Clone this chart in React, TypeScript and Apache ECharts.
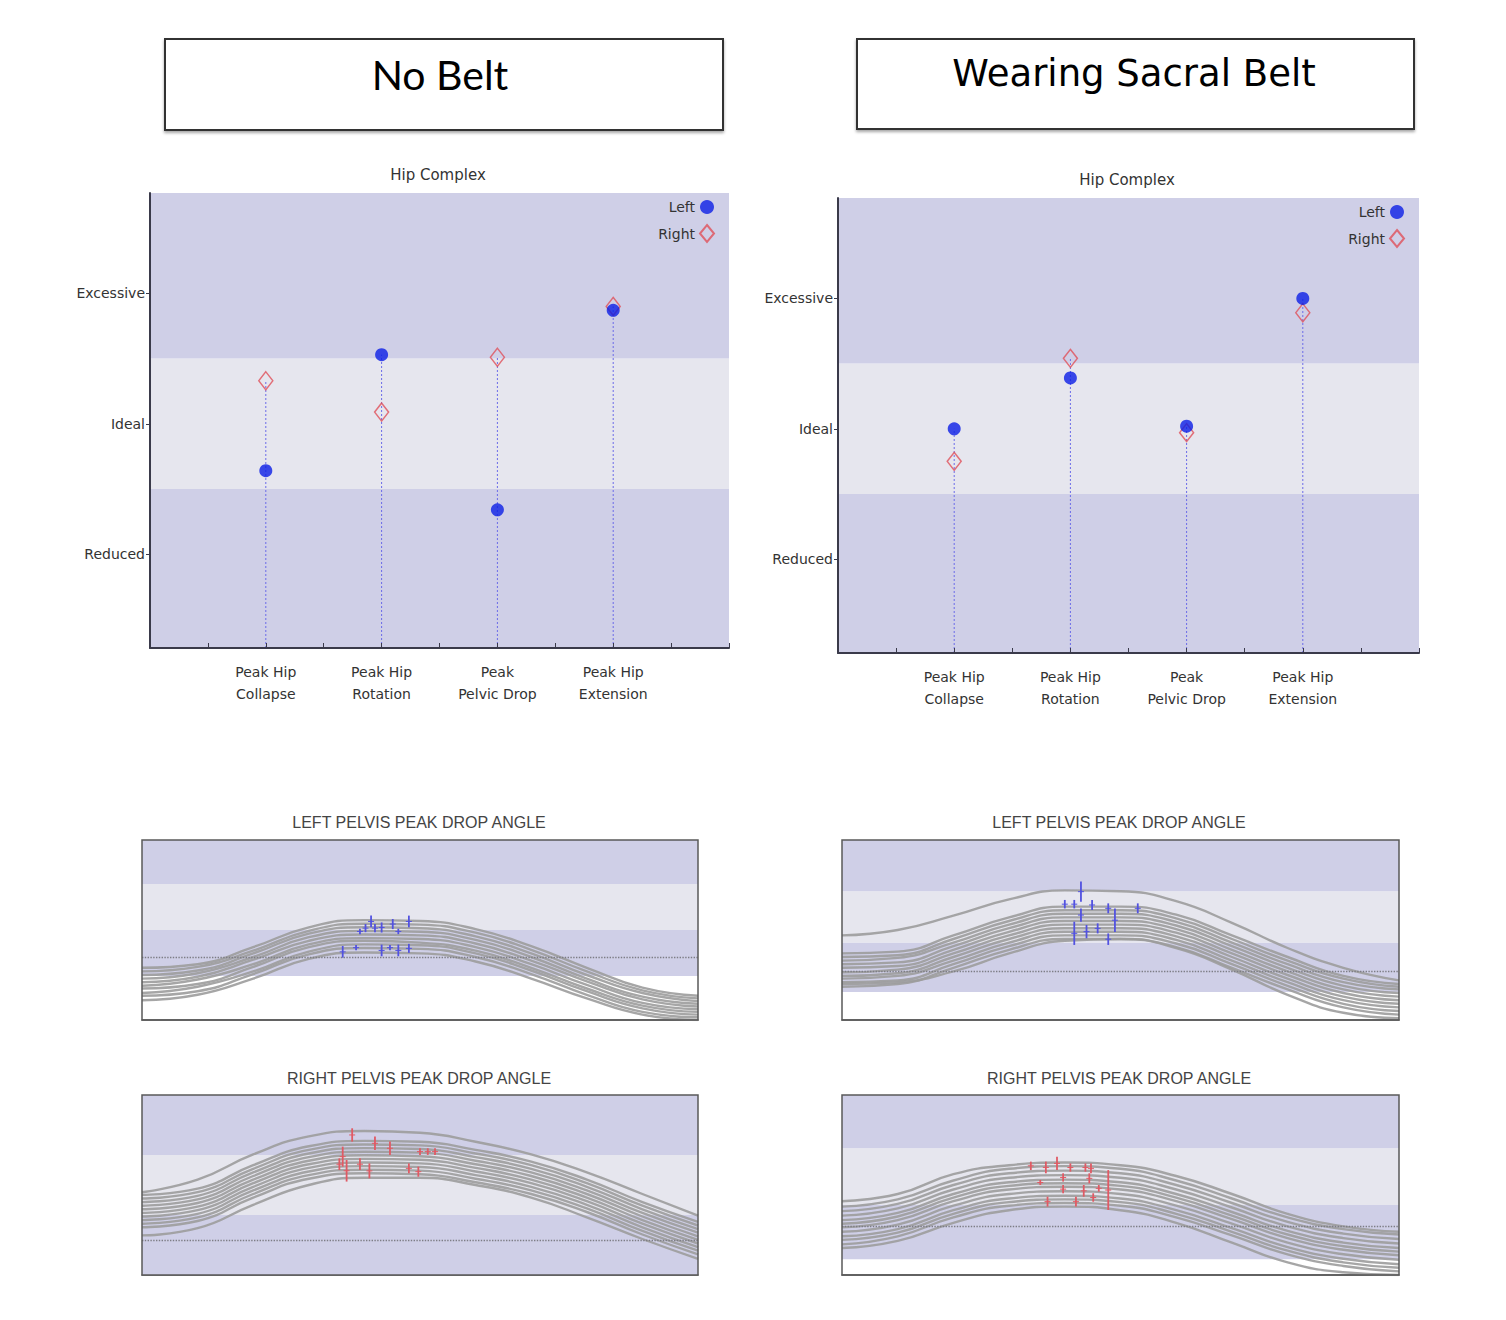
import * as echarts from "echarts"
import { useEffect, useRef } from "react"

// ---- Hip Complex (scatter) ----
const hipCategories = ["Peak Hip\nCollapse", "Peak Hip\nRotation", "Peak\nPelvic Drop", "Peak Hip\nExtension"]
const hipLevels = ["Reduced", "Ideal", "Excessive"] // 1, 2, 3
const hipZones = [0.28, 1.5, 2.5, 3.77] // reduced | ideal | excessive
const noBeltLeft = [1.64, 2.53, 1.34, 2.87]
const noBeltRight = [2.33, 2.09, 2.51, 2.9]
const beltLeft = [2.0, 2.39, 2.02, 3.0]
const beltRight = [1.75, 2.54, 1.97, 2.89]

// ---- Pelvis peak drop angle (gait cycle curves), values in % of chart range ----
const cyclePercent = [0, 10, 20, 30, 40, 50, 60, 70, 80, 90, 100]

const noBeltLeftZones = [24.5, 50, 75.5, 100]
const noBeltLeftRef = 34.7
const noBeltLeftTrials = [
  [11, 14, 23, 34, 37.5, 37, 32.5, 23, 12, 3, 0],
  [13.5, 16, 25.5, 36.5, 40, 39.5, 35, 25.5, 14, 4.5, 1.5],
  [15, 18.5, 27, 38, 42, 41.5, 37, 27.5, 16, 6.5, 3],
  [17.5, 20, 29.5, 40.5, 44, 43, 38.5, 29, 17.5, 8, 4.5],
  [19, 22.5, 31, 42, 45.5, 45, 40.5, 31, 19.5, 9.5, 6],
  [21, 24, 33.5, 44, 47.5, 47, 42.5, 33, 21.5, 11.5, 7.5],
  [23, 26, 35, 46, 49.5, 49, 44.5, 35, 23, 13, 9],
  [25, 27.5, 37, 48, 51.5, 51, 46.5, 37, 25, 15, 10.5],
  [27, 29.5, 38.5, 49.5, 53.5, 53, 48.5, 39, 27, 16.5, 12],
  [29, 31, 40.5, 51.5, 55.5, 55, 50.5, 41, 29, 18, 13.5],
]
const noBeltLeftPeaks = [
  [36.1, 34.6, 41.1], [38.5, 38.7, 41.7], [39.2, 47.7, 50.7], [40.2, 48.8, 53.3],
  [41.2, 51.5, 58], [41.9, 48.8, 53.3], [43.1, 48.6, 54.2], [43.1, 35.4, 41.9],
  [44.6, 38.7, 41.7], [45.1, 50.5, 56.1], [46.1, 47.7, 50.7], [46.1, 35.4, 41.9],
  [48, 51.5, 58], [48, 37.3, 42.3],
]

const beltLeftZones = [15.5, 43, 71.5, 100]
const beltLeftRef = 27
const beltLeftTrials = [
  [18.5, 20, 29, 39, 45, 45, 40.5, 29, 17, 7, 3],
  [21, 22, 31, 41, 47, 47, 42.5, 31, 19, 9, 5],
  [23, 24.5, 33, 43, 49, 49, 44.5, 33, 21, 11, 7],
  [24.5, 26, 35, 45, 51, 51, 46.5, 35, 23, 13, 9],
  [26.5, 28, 37, 47, 53, 53, 48.5, 37, 25, 15, 11],
  [29, 30, 39, 49, 55, 55, 50.5, 39, 27, 17, 13],
  [31, 32, 41, 51, 57, 57, 52.5, 41, 29, 19, 15],
  [33, 34.5, 43, 53, 59, 59, 54.5, 43, 31, 21, 17],
  [35, 36, 45, 55, 61, 61, 56.5, 45, 33, 23, 18.5],
  [37, 38, 47, 57, 63, 63, 58.5, 47, 35, 24.5, 20],
  [47, 50, 58, 67, 72, 71.5, 66, 54, 40, 29, 22],
  [20, 21, 27, 37, 44, 45, 40, 28, 14, 4, 1],
]
const beltLeftPeaks = [
  [40, 62, 66.7], [41.7, 62, 66.7], [41.7, 41.7, 54.6], [42.9, 65.7, 76.9],
  [42.9, 54.6, 62], [43.9, 45.4, 52.8], [44.9, 61.1, 66.7], [45.9, 48.1, 53.7],
  [47.8, 59.3, 64.8], [47.8, 41.7, 48.1], [49, 48.9, 62], [53.1, 59.3, 64.8],
]

const noBeltRightZones = [0, 33.3, 66.7, 100]
const noBeltRightRef = 19.4
const noBeltRightTrials = [
  [26.5, 30, 43, 53.5, 56.5, 56, 51.5, 45, 35, 22.5, 11.5],
  [28.5, 32, 45, 55.5, 58.5, 58, 53.5, 47, 37, 24.5, 13.5],
  [30.5, 34, 47, 57.5, 60.5, 60, 55.5, 49, 39, 26.5, 15.5],
  [32.5, 36, 49, 59.5, 62.5, 62, 57.5, 51, 41, 28.5, 17.5],
  [34.5, 38, 51, 61.5, 64.5, 64, 59.5, 53, 43, 30.5, 19.5],
  [36.5, 40, 53, 63.5, 66.5, 66, 61.5, 55, 45, 32.5, 21.5],
  [38.5, 42, 55, 65.5, 68.5, 68, 63.5, 57, 47, 34.5, 23.5],
  [40.5, 44, 57, 67.5, 70.5, 70, 65.5, 59, 49, 36.5, 25.5],
  [42.5, 46, 59, 69.5, 72.5, 72, 67.5, 61, 51, 38.5, 27.5],
  [44.5, 48, 61, 71.5, 74.5, 74, 69.5, 63, 53, 40.5, 29.5],
  [46, 53, 67, 77, 80, 79, 74, 67, 57, 45, 33],
  [22, 26, 39, 50, 54, 54, 50, 43, 32, 20, 9],
]
const noBeltRightPeaks = [
  [35.5, 58.3, 64.8], [36.1, 60.2, 71.3], [36.8, 51.9, 63.9], [37.8, 74.1, 81.5],
  [39.2, 58.3, 64.8], [40.9, 53.7, 62], [41.9, 69.4, 76.9], [44.6, 66.7, 74.1],
  [48, 56.5, 62], [49.7, 54.6, 60.2], [50, 66.7, 70.4], [51.4, 66.7, 70.4], [52.7, 66.7, 70.4],
]

const beltRightZones = [8.7, 38.9, 70.4, 100]
const beltRightRef = 26.9
const beltRightTrials = [
  [17, 21.5, 32, 38.5, 40, 38.5, 32, 22, 11.5, 5, 2],
  [19.5, 23.5, 34, 40.5, 42, 40.5, 34, 24, 13.5, 7, 4],
  [21.5, 25.5, 36, 42.5, 44, 42.5, 36, 26, 15.5, 9, 6],
  [24, 28, 38.5, 45, 46.5, 45, 38.5, 28.5, 18, 11.5, 8.5],
  [26.5, 30.5, 41, 47.5, 49, 47.5, 41, 31, 20.5, 14, 11],
  [28.5, 32.5, 43, 49.5, 51, 49.5, 43, 33, 22.5, 16, 13],
  [30.5, 34.5, 45, 51.5, 53, 51.5, 45, 35, 24.5, 18, 15],
  [33, 37, 47.5, 54, 55.5, 54, 47.5, 37.5, 27, 20.5, 17.5],
  [35.5, 39.5, 50, 56.5, 58, 56.5, 50, 40, 29.5, 23, 20],
  [38, 42, 52.5, 59, 60.5, 59, 52.5, 42.5, 32, 25.5, 22.5],
  [41, 45, 56, 61, 62.5, 61, 55, 45, 34, 27, 24],
  [15, 19, 29, 36, 38, 36, 29, 18, 7, 1.5, 0],
]
const beltRightPeaks = [
  [33.9, 58.3, 63], [35.6, 50, 52.8], [36.6, 56.5, 63], [36.9, 38, 43.5],
  [38.6, 58.3, 65.7], [39.7, 51.9, 56.5], [39.7, 45.4, 50], [41, 57.4, 62],
  [42, 38, 43.5], [43.4, 43.5, 50], [43.7, 57.4, 62], [44.4, 50.9, 56.5],
  [44.7, 56.5, 62], [45.1, 40.7, 45.4], [46.1, 46.3, 50], [47.8, 36.1, 58.3],
]

const darkBand = "#cfcfe7"
const lightBand = "#e6e6ee"
const leftColor = "#0b1ee6"
const rightColor = "#e0505a"
const uiFont = "DejaVu Sans"

// category i sits on every second unit of the hip x axis
const slot = (i: number) => 2 * (i + 1)

const bandSeries = (gi: number, zones: number[]) => ({
  type: "custom",
  xAxisIndex: gi,
  yAxisIndex: gi,
  z: 1,
  silent: true,
  data: zones.slice(0, -1).map((lo, i) => [lo, zones[i + 1], i]),
  renderItem: (params: any, api: any) => {
    const cs = params.coordSys
    const yTop = api.coord([0, api.value(1)])[1]
    const yBot = api.coord([0, api.value(0)])[1]
    return {
      type: "rect",
      shape: { x: cs.x, y: yTop, width: cs.width, height: yBot - yTop },
      style: { fill: api.value(2) === 1 ? lightBand : darkBand },
    }
  },
})

const hipSeries = (gi: number, left: number[], right: number[]) => [
  bandSeries(gi, hipZones),
  {
    type: "custom",
    xAxisIndex: gi,
    yAxisIndex: gi,
    z: 2,
    silent: true,
    data: left.map((v, i) => [slot(i), Math.max(v, right[i])]),
    renderItem: (_params: any, api: any) => {
      const top = api.coord([api.value(0), api.value(1)])
      const bottom = api.coord([api.value(0), hipZones[0]])
      return {
        type: "line",
        shape: { x1: top[0], y1: bottom[1], x2: top[0], y2: top[1] },
        style: { stroke: "#6b6be8", lineWidth: 1, lineDash: [2, 2] },
      }
    },
  },
  {
    name: "Right",
    type: "scatter",
    xAxisIndex: gi,
    yAxisIndex: gi,
    z: 3,
    symbol: "diamond",
    symbolSize: [14, 18],
    itemStyle: { color: "rgba(255,255,255,0)", borderColor: rightColor, borderWidth: 1.5 },
    data: right.map((v, i) => [slot(i), v]),
  },
  {
    name: "Left",
    type: "scatter",
    xAxisIndex: gi,
    yAxisIndex: gi,
    z: 4,
    symbol: "circle",
    symbolSize: 13,
    itemStyle: { color: leftColor },
    data: left.map((v, i) => [slot(i), v]),
  },
]

const waveSeries = (gi: number, zones: number[], ref: number, trials: number[][], peaks: number[][], tickColor: string) => [
  bandSeries(gi, zones),
  ...trials.map((t, k) => ({
    type: "line",
    xAxisIndex: gi,
    yAxisIndex: gi,
    z: 2,
    silent: true,
    smooth: true,
    symbol: "none",
    lineStyle: { color: "#9c9c9c", width: 2.4, opacity: 0.9 },
    data: t.map((v, i) => [cyclePercent[i], v]),
    markLine:
      k === trials.length - 1
        ? {
            silent: true,
            symbol: "none",
            label: { show: false },
            lineStyle: { color: "#7d7d85", type: "dotted", width: 1.4, opacity: 1 },
            data: [{ yAxis: ref }],
          }
        : undefined,
  })),
  {
    type: "custom",
    xAxisIndex: gi,
    yAxisIndex: gi,
    z: 3,
    silent: true,
    data: peaks,
    renderItem: (_params: any, api: any) => {
      const lo = api.coord([api.value(0), api.value(1)])
      const hi = api.coord([api.value(0), api.value(2)])
      const midY = (lo[1] + hi[1]) / 2
      return {
        type: "group",
        children: [
          { type: "line", shape: { x1: lo[0], y1: lo[1], x2: hi[0], y2: hi[1] }, style: { stroke: tickColor, lineWidth: 1.8 } },
          { type: "line", shape: { x1: lo[0] - 3, y1: midY, x2: lo[0] + 3, y2: midY }, style: { stroke: tickColor, lineWidth: 1 } },
        ],
      }
    },
  },
]

const hipXAxis = (gi: number) => ({
  gridIndex: gi,
  type: "value",
  min: 0,
  max: 10,
  interval: 1,
  z: 5,
  axisLine: { onZero: false, lineStyle: { color: "#3a3a4a", width: 2 } },
  axisTick: { inside: true, length: 5, lineStyle: { color: "#3a3a4a" } },
  axisLabel: {
    margin: 13,
    fontFamily: uiFont,
    fontSize: 14,
    lineHeight: 22,
    color: "#333",
    formatter: (v: number) => {
      const i = v / 2 - 1
      return Number.isInteger(i) && i >= 0 && i < hipCategories.length ? hipCategories[i] : ""
    },
  },
  splitLine: { show: false },
})

const hipYAxis = (gi: number) => ({
  gridIndex: gi,
  type: "value",
  min: hipZones[0],
  max: hipZones[3],
  z: 5,
  axisLine: { show: true, onZero: false, lineStyle: { color: "#3a3a4a", width: 2 } },
  axisTick: { show: true, customValues: [1, 2, 3], length: 4, lineStyle: { color: "#3a3a4a" } },
  axisLabel: {
    customValues: [1, 2, 3],
    margin: 5,
    fontFamily: uiFont,
    fontSize: 14,
    color: "#333",
    formatter: (v: number) => hipLevels[Math.round(v) - 1] ?? "",
  },
  splitLine: { show: false },
})

const waveXAxis = (gi: number) => ({
  gridIndex: gi,
  type: "value",
  min: 0,
  max: 100,
  axisLine: { onZero: false, lineStyle: { color: "#555", width: 1.5 } },
  axisTick: { show: false },
  axisLabel: { show: false },
  splitLine: { show: false },
})

const waveYAxis = (gi: number) => ({
  gridIndex: gi,
  type: "value",
  min: 0,
  max: 100,
  show: false,
  splitLine: { show: false },
})

const legendFor = (right: number, top: number) => ({
  data: ["Left", "Right"],
  orient: "vertical",
  right,
  top,
  align: "right",
  itemGap: 10,
  itemWidth: 14,
  itemHeight: 17,
  selectedMode: false,
  textStyle: { fontFamily: uiFont, fontSize: 14, color: "#333" },
})

const titleText = (text: string, x: number, y: number, size: number, family: string, color = "#333") => ({
  type: "text",
  x,
  y,
  style: {
    text,
    fontSize: size,
    fontFamily: family,
    fill: color,
    align: "center",
    verticalAlign: "middle",
    textAlign: "center",
    textVerticalAlign: "middle",
  },
})

const headerBox = (x: number, y: number, width: number, height: number) => ({
  type: "rect",
  shape: { x, y, width, height },
  style: {
    fill: "#fff",
    stroke: "#333",
    lineWidth: 2,
    shadowBlur: 3,
    shadowOffsetY: 2,
    shadowColor: "rgba(0,0,0,0.35)",
  },
})

const waveGrid = (left: number, top: number, width: number) => ({
  left,
  top,
  width,
  height: 180,
  show: true,
  z: 10,
  borderColor: "#5a5a5a",
  borderWidth: 1.5,
  backgroundColor: "transparent",
  outerBoundsMode: "none",
})

export default function App() {
  const chartRef = useRef<HTMLDivElement>(null)

  useEffect(() => {
    if (!chartRef.current) return
    document.body.style.margin = "0"
    const chart = echarts.init(chartRef.current, null, { renderer: "svg" })

    const option: any = {
      animation: false,
      backgroundColor: "#fff",
      grid: [
        { left: 150, top: 193, width: 579, height: 455, outerBoundsMode: "none" },
        { left: 838, top: 198, width: 581, height: 455, outerBoundsMode: "none" },
        waveGrid(142, 840, 556),
        waveGrid(842, 840, 557),
        waveGrid(142, 1095, 556),
        waveGrid(842, 1095, 557),
      ],
      xAxis: [hipXAxis(0), hipXAxis(1), waveXAxis(2), waveXAxis(3), waveXAxis(4), waveXAxis(5)],
      yAxis: [hipYAxis(0), hipYAxis(1), waveYAxis(2), waveYAxis(3), waveYAxis(4), waveYAxis(5)],
      legend: [legendFor(786, 195), legendFor(96, 200)],
      graphic: [
        headerBox(165, 39, 558, 91),
        headerBox(857, 39, 557, 90),
        titleText("No Belt", 440, 74, 41, "Lato", "#000"),
        titleText("Wearing Sacral Belt", 1134, 73, 37, uiFont, "#000"),
        titleText("Hip Complex", 438, 175, 15, uiFont),
        titleText("Hip Complex", 1127, 180, 15, uiFont),
        titleText("LEFT PELVIS PEAK DROP ANGLE", 419, 822, 16, "Liberation Sans", "#444"),
        titleText("LEFT PELVIS PEAK DROP ANGLE", 1119, 822, 16, "Liberation Sans", "#444"),
        titleText("RIGHT PELVIS PEAK DROP ANGLE", 419, 1078, 16, "Liberation Sans", "#444"),
        titleText("RIGHT PELVIS PEAK DROP ANGLE", 1119, 1078, 16, "Liberation Sans", "#444"),
      ],
      series: [
        ...hipSeries(0, noBeltLeft, noBeltRight),
        ...hipSeries(1, beltLeft, beltRight),
        ...waveSeries(2, noBeltLeftZones, noBeltLeftRef, noBeltLeftTrials, noBeltLeftPeaks, "#5252e0"),
        ...waveSeries(3, beltLeftZones, beltLeftRef, beltLeftTrials, beltLeftPeaks, "#5252e0"),
        ...waveSeries(4, noBeltRightZones, noBeltRightRef, noBeltRightTrials, noBeltRightPeaks, "#e05a64"),
        ...waveSeries(5, beltRightZones, beltRightRef, beltRightTrials, beltRightPeaks, "#e05a64"),
      ],
    }

    chart.setOption(option)

    const handleResize = () => chart.resize()
    window.addEventListener("resize", handleResize)
    return () => {
      window.removeEventListener("resize", handleResize)
      chart.dispose()
    }
  }, [])

  return <div ref={chartRef} style={{ width: "1506px", height: "1320px" }} />
}
